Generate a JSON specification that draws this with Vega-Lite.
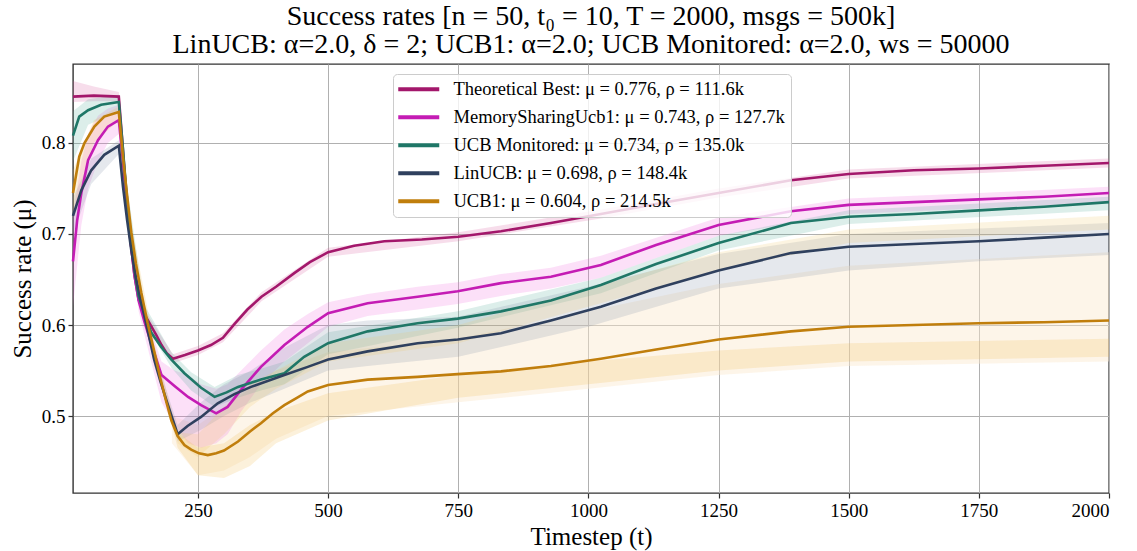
{
  "$schema": "https://vega.github.io/schema/vega-lite/v6.json",
  "width": 1036,
  "height": 429,
  "autosize": "none",
  "padding": {"left": 73, "top": 64, "right": 28, "bottom": 58},
  "background": "white",
  "config": {
    "font": "Liberation Serif",
    "view": {"stroke": "#333333", "strokeWidth": 1.4},
    "axis": {
      "labelFont": "Liberation Serif",
      "labelFontSize": 19,
      "labelColor": "#000000",
      "titleFont": "Liberation Serif",
      "titleFontSize": 25,
      "titleFontWeight": "normal",
      "titleColor": "#000000",
      "tickColor": "#333333",
      "tickSize": 5,
      "tickWidth": 1.2,
      "domain": false,
      "gridColor": "#b0b0b0",
      "gridWidth": 1,
      "labelPadding": 3
    }
  },
  "title": {
    "text": ["Success rates [n = 50, t₀ = 10, T = 2000, msgs = 500k]", "LinUCB: α=2.0, δ = 2; UCB1: α=2.0; UCB Monitored: α=2.0, ws = 50000"],
    "font": "Liberation Serif",
    "fontSize": 28,
    "fontWeight": "normal",
    "color": "#000000",
    "anchor": "middle",
    "lineHeight": 28,
    "offset": 5
  },
  "datasets": {
    "main": [
      {"s":"Theoretical Best","t":10,"v":0.851},{"s":"Theoretical Best","t":50,"v":0.852},{"s":"Theoretical Best","t":98,"v":0.851},{"s":"Theoretical Best","t":105,"v":0.80},{"s":"Theoretical Best","t":112,"v":0.745},{"s":"Theoretical Best","t":120,"v":0.695},{"s":"Theoretical Best","t":128,"v":0.655},{"s":"Theoretical Best","t":136,"v":0.628},{"s":"Theoretical Best","t":147,"v":0.612},{"s":"Theoretical Best","t":158,"v":0.601},{"s":"Theoretical Best","t":170,"v":0.589},{"s":"Theoretical Best","t":180,"v":0.578},{"s":"Theoretical Best","t":190,"v":0.569},{"s":"Theoretical Best","t":202,"v":0.563},{"s":"Theoretical Best","t":225,"v":0.567},{"s":"Theoretical Best","t":250,"v":0.572},{"s":"Theoretical Best","t":275,"v":0.578},{"s":"Theoretical Best","t":298,"v":0.586},{"s":"Theoretical Best","t":320,"v":0.601},{"s":"Theoretical Best","t":345,"v":0.617},{"s":"Theoretical Best","t":372,"v":0.631},{"s":"Theoretical Best","t":400,"v":0.642},{"s":"Theoretical Best","t":435,"v":0.657},{"s":"Theoretical Best","t":465,"v":0.669},{"s":"Theoretical Best","t":500,"v":0.680},{"s":"Theoretical Best","t":550,"v":0.687},{"s":"Theoretical Best","t":608,"v":0.692},{"s":"Theoretical Best","t":680,"v":0.694},{"s":"Theoretical Best","t":750,"v":0.697},{"s":"Theoretical Best","t":832,"v":0.703},{"s":"Theoretical Best","t":928,"v":0.712},{"s":"Theoretical Best","t":1024,"v":0.722},{"s":"Theoretical Best","t":1130,"v":0.733},{"s":"Theoretical Best","t":1250,"v":0.745},{"s":"Theoretical Best","t":1389,"v":0.759},{"s":"Theoretical Best","t":1500,"v":0.766},{"s":"Theoretical Best","t":1625,"v":0.770},{"s":"Theoretical Best","t":1750,"v":0.772},{"s":"Theoretical Best","t":1875,"v":0.775},{"s":"Theoretical Best","t":2000,"v":0.778},
      {"s":"MemorySharingUcb1","t":10,"v":0.67},{"s":"MemorySharingUcb1","t":18,"v":0.715},{"s":"MemorySharingUcb1","t":26,"v":0.745},{"s":"MemorySharingUcb1","t":39,"v":0.781},{"s":"MemorySharingUcb1","t":58,"v":0.803},{"s":"MemorySharingUcb1","t":77,"v":0.818},{"s":"MemorySharingUcb1","t":98,"v":0.825},{"s":"MemorySharingUcb1","t":105,"v":0.785},{"s":"MemorySharingUcb1","t":112,"v":0.74},{"s":"MemorySharingUcb1","t":120,"v":0.695},{"s":"MemorySharingUcb1","t":128,"v":0.655},{"s":"MemorySharingUcb1","t":136,"v":0.627},{"s":"MemorySharingUcb1","t":147,"v":0.604},{"s":"MemorySharingUcb1","t":160,"v":0.58},{"s":"MemorySharingUcb1","t":180,"v":0.545},{"s":"MemorySharingUcb1","t":205,"v":0.533},{"s":"MemorySharingUcb1","t":231,"v":0.521},{"s":"MemorySharingUcb1","t":256,"v":0.512},{"s":"MemorySharingUcb1","t":285,"v":0.503},{"s":"MemorySharingUcb1","t":307,"v":0.510},{"s":"MemorySharingUcb1","t":333,"v":0.529},{"s":"MemorySharingUcb1","t":371,"v":0.554},{"s":"MemorySharingUcb1","t":416,"v":0.578},{"s":"MemorySharingUcb1","t":461,"v":0.598},{"s":"MemorySharingUcb1","t":500,"v":0.613},{"s":"MemorySharingUcb1","t":576,"v":0.624},{"s":"MemorySharingUcb1","t":672,"v":0.631},{"s":"MemorySharingUcb1","t":749,"v":0.637},{"s":"MemorySharingUcb1","t":832,"v":0.646},{"s":"MemorySharingUcb1","t":928,"v":0.653},{"s":"MemorySharingUcb1","t":1024,"v":0.666},{"s":"MemorySharingUcb1","t":1130,"v":0.688},{"s":"MemorySharingUcb1","t":1250,"v":0.710},{"s":"MemorySharingUcb1","t":1389,"v":0.725},{"s":"MemorySharingUcb1","t":1500,"v":0.732},{"s":"MemorySharingUcb1","t":1625,"v":0.735},{"s":"MemorySharingUcb1","t":1750,"v":0.738},{"s":"MemorySharingUcb1","t":1875,"v":0.741},{"s":"MemorySharingUcb1","t":2000,"v":0.745},
      {"s":"UCB Monitored","t":10,"v":0.808},{"s":"UCB Monitored","t":22,"v":0.829},{"s":"UCB Monitored","t":39,"v":0.836},{"s":"UCB Monitored","t":64,"v":0.842},{"s":"UCB Monitored","t":98,"v":0.845},{"s":"UCB Monitored","t":105,"v":0.80},{"s":"UCB Monitored","t":112,"v":0.75},{"s":"UCB Monitored","t":120,"v":0.70},{"s":"UCB Monitored","t":128,"v":0.66},{"s":"UCB Monitored","t":136,"v":0.632},{"s":"UCB Monitored","t":147,"v":0.613},{"s":"UCB Monitored","t":160,"v":0.592},{"s":"UCB Monitored","t":179,"v":0.576},{"s":"UCB Monitored","t":199,"v":0.562},{"s":"UCB Monitored","t":224,"v":0.547},{"s":"UCB Monitored","t":256,"v":0.531},{"s":"UCB Monitored","t":282,"v":0.521},{"s":"UCB Monitored","t":305,"v":0.526},{"s":"UCB Monitored","t":327,"v":0.532},{"s":"UCB Monitored","t":371,"v":0.540},{"s":"UCB Monitored","t":416,"v":0.547},{"s":"UCB Monitored","t":454,"v":0.565},{"s":"UCB Monitored","t":500,"v":0.58},{"s":"UCB Monitored","t":576,"v":0.593},{"s":"UCB Monitored","t":672,"v":0.602},{"s":"UCB Monitored","t":749,"v":0.607},{"s":"UCB Monitored","t":832,"v":0.615},{"s":"UCB Monitored","t":928,"v":0.627},{"s":"UCB Monitored","t":1024,"v":0.644},{"s":"UCB Monitored","t":1130,"v":0.667},{"s":"UCB Monitored","t":1250,"v":0.690},{"s":"UCB Monitored","t":1389,"v":0.712},{"s":"UCB Monitored","t":1500,"v":0.719},{"s":"UCB Monitored","t":1625,"v":0.722},{"s":"UCB Monitored","t":1750,"v":0.726},{"s":"UCB Monitored","t":1875,"v":0.730},{"s":"UCB Monitored","t":2000,"v":0.735},
      {"s":"LinUCB","t":10,"v":0.72},{"s":"LinUCB","t":26,"v":0.748},{"s":"LinUCB","t":45,"v":0.770},{"s":"LinUCB","t":70,"v":0.787},{"s":"LinUCB","t":98,"v":0.797},{"s":"LinUCB","t":106,"v":0.752},{"s":"LinUCB","t":114,"v":0.715},{"s":"LinUCB","t":122,"v":0.682},{"s":"LinUCB","t":131,"v":0.652},{"s":"LinUCB","t":141,"v":0.625},{"s":"LinUCB","t":153,"v":0.595},{"s":"LinUCB","t":166,"v":0.562},{"s":"LinUCB","t":178,"v":0.538},{"s":"LinUCB","t":189,"v":0.518},{"s":"LinUCB","t":201,"v":0.497},{"s":"LinUCB","t":211,"v":0.480},{"s":"LinUCB","t":230,"v":0.489},{"s":"LinUCB","t":256,"v":0.499},{"s":"LinUCB","t":288,"v":0.514},{"s":"LinUCB","t":320,"v":0.524},{"s":"LinUCB","t":352,"v":0.532},{"s":"LinUCB","t":416,"v":0.545},{"s":"LinUCB","t":461,"v":0.554},{"s":"LinUCB","t":500,"v":0.562},{"s":"LinUCB","t":576,"v":0.571},{"s":"LinUCB","t":672,"v":0.580},{"s":"LinUCB","t":749,"v":0.584},{"s":"LinUCB","t":832,"v":0.591},{"s":"LinUCB","t":928,"v":0.605},{"s":"LinUCB","t":1024,"v":0.620},{"s":"LinUCB","t":1130,"v":0.640},{"s":"LinUCB","t":1250,"v":0.660},{"s":"LinUCB","t":1389,"v":0.679},{"s":"LinUCB","t":1500,"v":0.686},{"s":"LinUCB","t":1625,"v":0.689},{"s":"LinUCB","t":1750,"v":0.692},{"s":"LinUCB","t":1875,"v":0.696},{"s":"LinUCB","t":2000,"v":0.700},
      {"s":"UCB1","t":10,"v":0.745},{"s":"UCB1","t":22,"v":0.785},{"s":"UCB1","t":32,"v":0.80},{"s":"UCB1","t":51,"v":0.818},{"s":"UCB1","t":70,"v":0.829},{"s":"UCB1","t":98,"v":0.834},{"s":"UCB1","t":106,"v":0.785},{"s":"UCB1","t":114,"v":0.742},{"s":"UCB1","t":122,"v":0.702},{"s":"UCB1","t":131,"v":0.667},{"s":"UCB1","t":141,"v":0.636},{"s":"UCB1","t":153,"v":0.603},{"s":"UCB1","t":166,"v":0.571},{"s":"UCB1","t":178,"v":0.541},{"s":"UCB1","t":189,"v":0.516},{"s":"UCB1","t":199,"v":0.495},{"s":"UCB1","t":211,"v":0.478},{"s":"UCB1","t":224,"v":0.468},{"s":"UCB1","t":237,"v":0.463},{"s":"UCB1","t":252,"v":0.459},{"s":"UCB1","t":269,"v":0.457},{"s":"UCB1","t":285,"v":0.459},{"s":"UCB1","t":300,"v":0.462},{"s":"UCB1","t":327,"v":0.472},{"s":"UCB1","t":350,"v":0.483},{"s":"UCB1","t":371,"v":0.492},{"s":"UCB1","t":394,"v":0.503},{"s":"UCB1","t":416,"v":0.512},{"s":"UCB1","t":440,"v":0.520},{"s":"UCB1","t":461,"v":0.527},{"s":"UCB1","t":500,"v":0.534},{"s":"UCB1","t":576,"v":0.540},{"s":"UCB1","t":672,"v":0.543},{"s":"UCB1","t":749,"v":0.546},{"s":"UCB1","t":832,"v":0.549},{"s":"UCB1","t":928,"v":0.555},{"s":"UCB1","t":1024,"v":0.563},{"s":"UCB1","t":1130,"v":0.573},{"s":"UCB1","t":1250,"v":0.584},{"s":"UCB1","t":1389,"v":0.593},{"s":"UCB1","t":1500,"v":0.598},{"s":"UCB1","t":1625,"v":0.600},{"s":"UCB1","t":1750,"v":0.602},{"s":"UCB1","t":1875,"v":0.603},{"s":"UCB1","t":2000,"v":0.605}
    ],
    "bands": [
      {"b":"TB","t":10,"lo":0.845,"hi":0.868},{"b":"TB","t":50,"lo":0.846,"hi":0.862},{"b":"TB","t":98,"lo":0.846,"hi":0.856},{"b":"TB","t":105,"lo":0.795,"hi":0.805},{"b":"TB","t":120,"lo":0.69,"hi":0.70},{"b":"TB","t":147,"lo":0.607,"hi":0.617},{"b":"TB","t":202,"lo":0.558,"hi":0.568},{"b":"TB","t":250,"lo":0.567,"hi":0.577},{"b":"TB","t":298,"lo":0.581,"hi":0.591},{"b":"TB","t":372,"lo":0.626,"hi":0.636},{"b":"TB","t":500,"lo":0.675,"hi":0.685},{"b":"TB","t":750,"lo":0.692,"hi":0.702},{"b":"TB","t":1024,"lo":0.717,"hi":0.727},{"b":"TB","t":1250,"lo":0.740,"hi":0.750},{"b":"TB","t":1500,"lo":0.761,"hi":0.771},{"b":"TB","t":2000,"lo":0.773,"hi":0.783},
      {"b":"MS","t":10,"lo":0.62,"hi":0.72},{"b":"MS","t":26,"lo":0.71,"hi":0.78},{"b":"MS","t":39,"lo":0.75,"hi":0.81},{"b":"MS","t":58,"lo":0.78,"hi":0.83},{"b":"MS","t":77,"lo":0.80,"hi":0.838},{"b":"MS","t":98,"lo":0.81,"hi":0.842},{"b":"MS","t":112,"lo":0.73,"hi":0.75},{"b":"MS","t":136,"lo":0.615,"hi":0.64},{"b":"MS","t":160,"lo":0.56,"hi":0.595},{"b":"MS","t":180,"lo":0.515,"hi":0.56},{"b":"MS","t":205,"lo":0.49,"hi":0.55},{"b":"MS","t":231,"lo":0.47,"hi":0.545},{"b":"MS","t":256,"lo":0.465,"hi":0.535},{"b":"MS","t":285,"lo":0.47,"hi":0.53},{"b":"MS","t":307,"lo":0.48,"hi":0.535},{"b":"MS","t":333,"lo":0.505,"hi":0.55},{"b":"MS","t":371,"lo":0.535,"hi":0.572},{"b":"MS","t":416,"lo":0.56,"hi":0.595},{"b":"MS","t":461,"lo":0.58,"hi":0.612},{"b":"MS","t":500,"lo":0.598,"hi":0.625},{"b":"MS","t":576,"lo":0.610,"hi":0.634},{"b":"MS","t":672,"lo":0.617,"hi":0.642},{"b":"MS","t":749,"lo":0.623,"hi":0.647},{"b":"MS","t":832,"lo":0.632,"hi":0.656},{"b":"MS","t":928,"lo":0.640,"hi":0.663},{"b":"MS","t":1024,"lo":0.652,"hi":0.676},{"b":"MS","t":1250,"lo":0.698,"hi":0.718},{"b":"MS","t":1500,"lo":0.722,"hi":0.739},{"b":"MS","t":1750,"lo":0.728,"hi":0.745},{"b":"MS","t":2000,"lo":0.735,"hi":0.752},
      {"b":"UM","t":10,"lo":0.78,"hi":0.835},{"b":"UM","t":39,"lo":0.82,"hi":0.848},{"b":"UM","t":98,"lo":0.835,"hi":0.853},{"b":"UM","t":112,"lo":0.74,"hi":0.76},{"b":"UM","t":147,"lo":0.603,"hi":0.622},{"b":"UM","t":199,"lo":0.553,"hi":0.57},{"b":"UM","t":237,"lo":0.528,"hi":0.548},{"b":"UM","t":282,"lo":0.51,"hi":0.532},{"b":"UM","t":327,"lo":0.52,"hi":0.545},{"b":"UM","t":371,"lo":0.528,"hi":0.552},{"b":"UM","t":416,"lo":0.535,"hi":0.56},{"b":"UM","t":500,"lo":0.568,"hi":0.592},{"b":"UM","t":749,"lo":0.597,"hi":0.615},{"b":"UM","t":1024,"lo":0.635,"hi":0.652},{"b":"UM","t":1250,"lo":0.682,"hi":0.698},{"b":"UM","t":1500,"lo":0.711,"hi":0.726},{"b":"UM","t":2000,"lo":0.726,"hi":0.741},
      {"b":"LU","t":10,"lo":0.70,"hi":0.74},{"b":"LU","t":45,"lo":0.755,"hi":0.783},{"b":"LU","t":98,"lo":0.788,"hi":0.803},{"b":"LU","t":122,"lo":0.675,"hi":0.69},{"b":"LU","t":166,"lo":0.555,"hi":0.57},{"b":"LU","t":211,"lo":0.472,"hi":0.49},{"b":"LU","t":256,"lo":0.485,"hi":0.515},{"b":"LU","t":300,"lo":0.50,"hi":0.535},{"b":"LU","t":352,"lo":0.515,"hi":0.55},{"b":"LU","t":416,"lo":0.53,"hi":0.575},{"b":"LU","t":500,"lo":0.55,"hi":0.60},{"b":"LU","t":576,"lo":0.555,"hi":0.605},{"b":"LU","t":750,"lo":0.565,"hi":0.609},{"b":"LU","t":1000,"lo":0.598,"hi":0.642},{"b":"LU","t":1250,"lo":0.64,"hi":0.678},{"b":"LU","t":1500,"lo":0.66,"hi":0.70},{"b":"LU","t":1750,"lo":0.67,"hi":0.706},{"b":"LU","t":2000,"lo":0.677,"hi":0.712},
      {"b":"U1lo","t":10,"lo":0.72,"hi":0.77},{"b":"U1lo","t":50,"lo":0.80,"hi":0.825},{"b":"U1lo","t":98,"lo":0.825,"hi":0.84},{"b":"U1lo","t":122,"lo":0.695,"hi":0.71},{"b":"U1lo","t":166,"lo":0.565,"hi":0.58},{"b":"U1lo","t":211,"lo":0.465,"hi":0.482},{"b":"U1lo","t":250,"lo":0.435,"hi":0.465},{"b":"U1lo","t":300,"lo":0.432,"hi":0.47},{"b":"U1lo","t":350,"lo":0.445,"hi":0.49},{"b":"U1lo","t":400,"lo":0.47,"hi":0.505},{"b":"U1lo","t":500,"lo":0.495,"hi":0.525},{"b":"U1lo","t":750,"lo":0.52,"hi":0.545},{"b":"U1lo","t":1000,"lo":0.535,"hi":0.56},{"b":"U1lo","t":1250,"lo":0.55,"hi":0.572},{"b":"U1lo","t":1500,"lo":0.56,"hi":0.58},{"b":"U1lo","t":2000,"lo":0.565,"hi":0.585},
      {"b":"U1hi","t":211,"lo":0.47,"hi":0.482},{"b":"U1hi","t":250,"lo":0.455,"hi":0.48},{"b":"U1hi","t":300,"lo":0.48,"hi":0.51},{"b":"U1hi","t":350,"lo":0.51,"hi":0.535},{"b":"U1hi","t":400,"lo":0.53,"hi":0.55},{"b":"U1hi","t":500,"lo":0.56,"hi":0.58},{"b":"U1hi","t":750,"lo":0.58,"hi":0.60},{"b":"U1hi","t":1000,"lo":0.62,"hi":0.64},{"b":"U1hi","t":1250,"lo":0.66,"hi":0.68},{"b":"U1hi","t":1500,"lo":0.69,"hi":0.705},{"b":"U1hi","t":2000,"lo":0.705,"hi":0.72}
    ],
    "spread": [
      {"t":200,"lo":0.47,"hi":0.50},{"t":250,"lo":0.435,"hi":0.49},{"t":300,"lo":0.44,"hi":0.51},{"t":350,"lo":0.455,"hi":0.53},{"t":400,"lo":0.475,"hi":0.55},{"t":500,"lo":0.50,"hi":0.57},{"t":750,"lo":0.515,"hi":0.585},{"t":1000,"lo":0.53,"hi":0.615},{"t":1250,"lo":0.545,"hi":0.645},{"t":1500,"lo":0.555,"hi":0.665},{"t":2000,"lo":0.56,"hi":0.68}
    ]
  },
  "encoding": {
    "x": {
      "field": "t",
      "type": "quantitative",
      "scale": {"domain": [10, 2000], "nice": false, "zero": false},
      "axis": {"values": [250, 500, 750, 1000, 1250, 1500, 1750, 2000], "title": "Timestep (t)", "titlePadding": 4, "format": "d"}
    }
  },
  "layer": [
    {
      "data": {"name": "spread"},
      "mark": {"type": "area", "color": "#fbe9cf", "opacity": 0.45},
      "encoding": {
        "y": {
          "field": "lo",
          "type": "quantitative",
          "scale": {"domain": [0.4154, 0.8868], "nice": false, "zero": false},
          "axis": {"values": [0.5, 0.6, 0.7, 0.8], "format": ".1f", "title": "Success rate (μ)", "titlePadding": 6}
        },
        "y2": {"field": "hi"}
      }
    },
    {
      "data": {"name": "bands"},
      "mark": {"type": "area", "opacity": 0.2},
      "encoding": {
        "y": {"field": "lo", "type": "quantitative"},
        "y2": {"field": "hi"},
        "fill": {
          "field": "b",
          "type": "nominal",
          "scale": {"domain": ["TB", "MS", "UM", "LU", "U1lo", "U1hi"], "range": ["#d8559a", "#ee66dd", "#4fa897", "#7f8ea6", "#f2bb4a", "#f2c76a"]},
          "legend": null
        }
      }
    },
    {
      "data": {"name": "main"},
      "mark": {"type": "line", "strokeWidth": 2.6},
      "encoding": {
        "y": {"field": "v", "type": "quantitative"},
        "stroke": {
          "field": "s",
          "type": "nominal",
          "sort": null,
          "scale": {
            "domain": ["Theoretical Best", "MemorySharingUcb1", "UCB Monitored", "LinUCB", "UCB1"],
            "range": ["#a3176b", "#c41cb4", "#1f7767", "#2f405e", "#c07e0c"]
          },
          "legend": {
            "orient": "none",
            "legendX": 320,
            "legendY": 10,
            "title": null,
            "labelFont": "Liberation Serif",
            "labelFontSize": 18.5,
            "labelColor": "#000000",
            "labelLimit": 600,
            "symbolType": "M-2,0L6.2,0",
            "symbolSize": 100,
            "symbolStrokeWidth": 4,
            "labelOffset": 36,
            "rowPadding": 9,
            "padding": 6,
            "fillColor": "rgba(255,255,255,0.8)",
            "strokeColor": "#cccccc",
            "cornerRadius": 4,
            "labelExpr": "datum.label == 'Theoretical Best' ? 'Theoretical Best: μ = 0.776, ρ = 111.6k' : datum.label == 'MemorySharingUcb1' ? 'MemorySharingUcb1: μ = 0.743, ρ = 127.7k' : datum.label == 'UCB Monitored' ? 'UCB Monitored: μ = 0.734, ρ = 135.0k' : datum.label == 'LinUCB' ? 'LinUCB: μ = 0.698, ρ = 148.4k' : 'UCB1: μ = 0.604, ρ = 214.5k'"
          }
        }
      }
    }
  ]
}
